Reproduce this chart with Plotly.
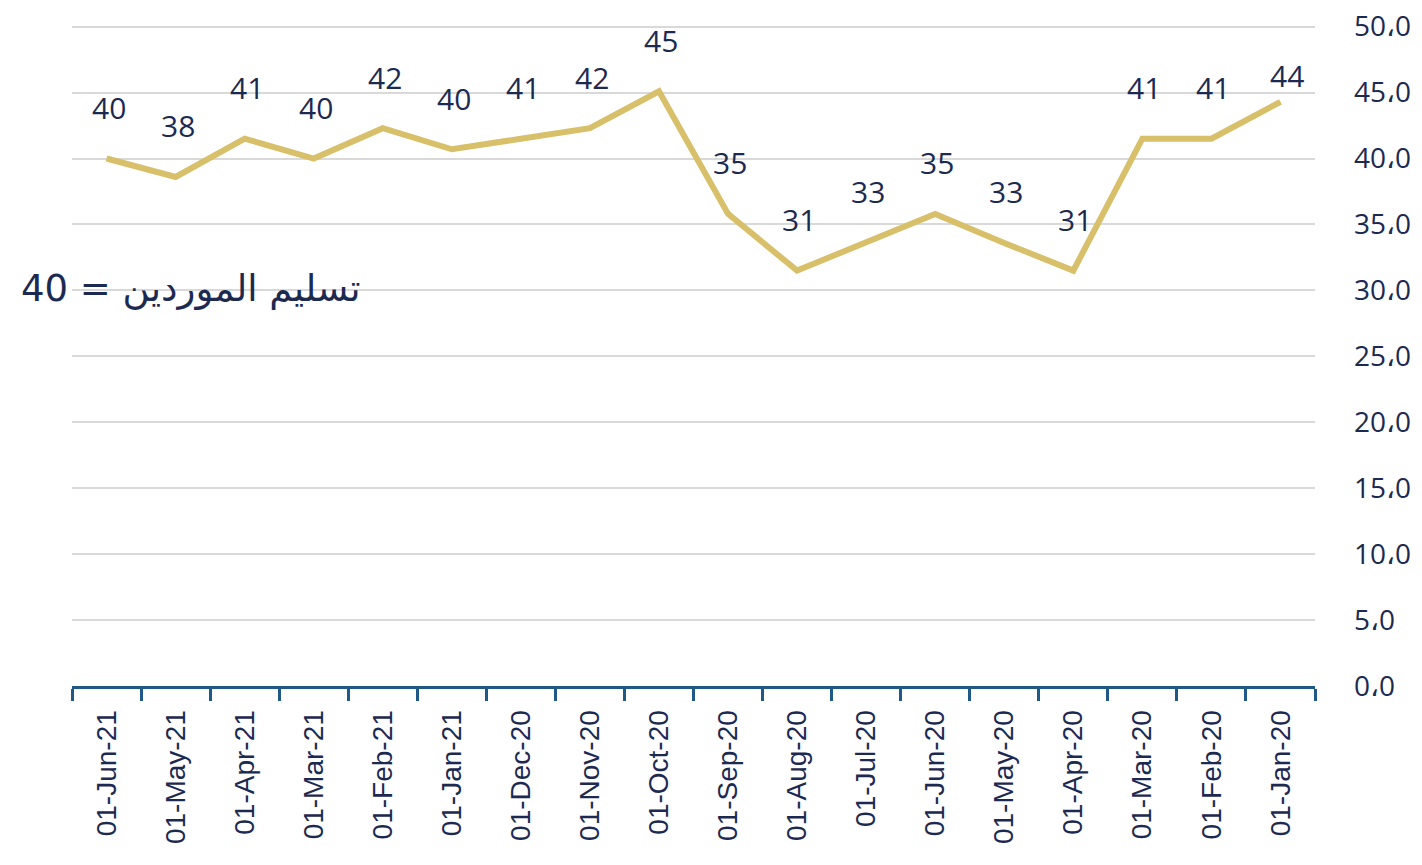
import plotly.graph_objects as go

# supplier deliveries index, newest month first (as drawn left to right)
months = ["01-Jun-21", "01-May-21", "01-Apr-21", "01-Mar-21", "01-Feb-21", "01-Jan-21",
          "01-Dec-20", "01-Nov-20", "01-Oct-20", "01-Sep-20", "01-Aug-20", "01-Jul-20",
          "01-Jun-20", "01-May-20", "01-Apr-20", "01-Mar-20", "01-Feb-20", "01-Jan-20"]
values = [40.0, 38.6, 41.5, 40.0, 42.3, 40.7, 41.5, 42.3, 45.1, 35.8, 31.5, 33.6,
          35.8, 33.6, 31.5, 41.5, 41.5, 44.3]
labels = ["40", "38", "41", "40", "42", "40", "41", "42", "45", "35", "31", "33",
          "35", "33", "31", "41", "41", "44"]
y_ticks = [0, 5, 10, 15, 20, 25, 30, 35, 40, 45, 50]
y_tick_text = ["0،0", "5،0", "10،0", "15،0", "20،0", "25،0", "30،0", "35،0",
               "40،0", "45،0", "50،0"]
series_name = "تسليم الموردين = 40"

NAVY = "#1c2a52"
AXIS_BLUE = "#1f5a86"
GOLD = "#d8bf69"

fig = go.Figure()
fig.add_trace(go.Scatter(
    x=months, y=values, mode="lines",
    line=dict(color=GOLD, width=6),
    hoverinfo="x+y", showlegend=False,
))

for i, (m, v, lab) in enumerate(zip(months, values, labels)):
    last = i == len(months) - 1
    fig.add_annotation(
        x=m, y=v, text=lab, showarrow=False,
        yshift=26 if last else 51, xshift=7 if last else 2,
        font=dict(family="Open Sans", size=30, color=NAVY, weight=500),
    )

fig.add_annotation(
    xref="paper", yref="paper", x=0.0957, y=0.60, xanchor="center",
    text=series_name, showarrow=False,
    font=dict(family="DejaVu Sans", size=37, color=NAVY),
)

fig.update_xaxes(
    type="category", categoryorder="array", categoryarray=months,
    range=[-0.5, len(months) - 0.5],
    showgrid=False, showline=True, linecolor=AXIS_BLUE, linewidth=3,
    ticks="outside", tickson="boundaries", ticklen=12, tickwidth=3, tickcolor=AXIS_BLUE,
    tickangle=-90, tickfont=dict(family="Liberation Sans", size=28, color=NAVY),
    ticklabelstandoff=10, automargin=False,
)
fig.update_yaxes(
    side="right", range=[0, 50.2], tickvals=y_ticks, ticktext=y_tick_text,
    showgrid=True, gridcolor="#d9d9d9", gridwidth=2, zeroline=False, showline=False,
    ticks="", ticklabelstandoff=38, automargin=False, ticklabeloverflow="allow",
    tickfont=dict(family="Open Sans", size=28, color=NAVY, weight=500),
)
# page body adds an 8px offset, so the figure is sized to fit the window
fig.update_layout(
    width=1414, height=857,
    margin=dict(l=64, r=107, t=16, b=179),
    plot_bgcolor="white", paper_bgcolor="white",
)

fig.write_html("out.html")
